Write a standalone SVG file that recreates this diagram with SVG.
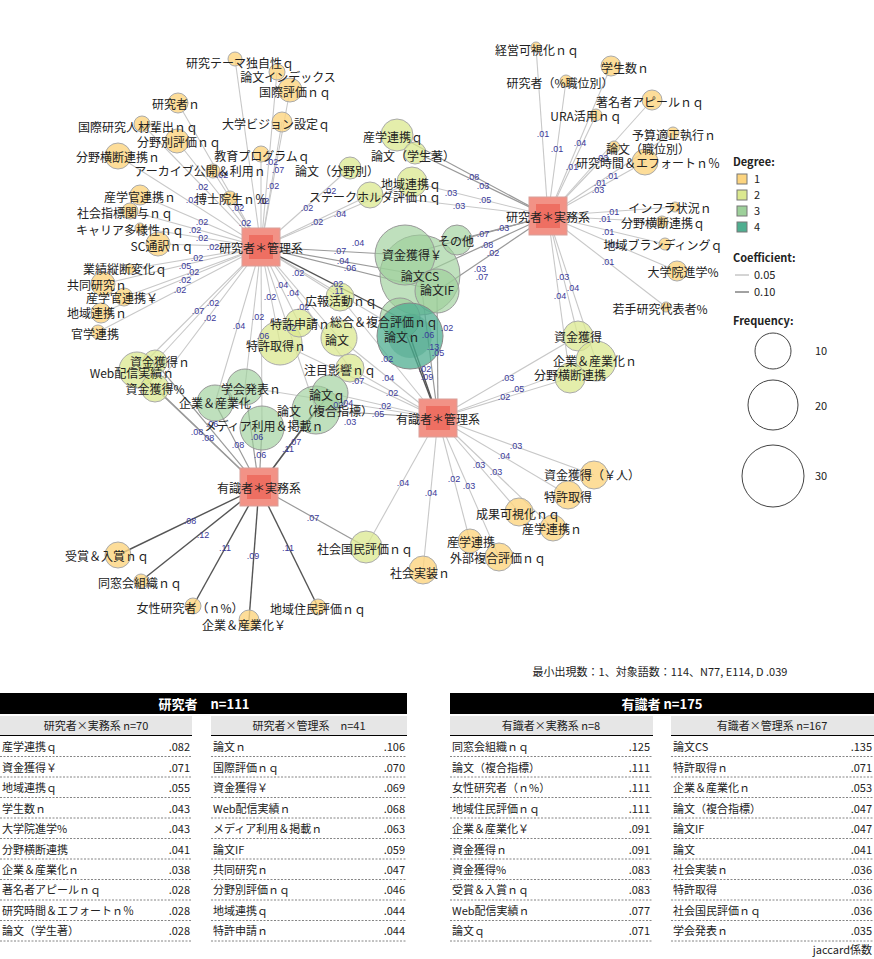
<svg xmlns="http://www.w3.org/2000/svg" width="874" height="959" viewBox="0 0 874 959">
<style>
text{font-family:"Noto Sans CJK JP","Liberation Sans",sans-serif;fill:#222}
.l{font-size:12px;text-anchor:middle;dominant-baseline:central}
.el{font-size:9px;fill:#3a3a9a;text-anchor:middle;font-family:"Liberation Sans",sans-serif}
.e1{stroke:#c8c8c8;stroke-width:1.1}
.e2{stroke:#9a9a9a;stroke-width:1.2}
.e3{stroke:#555;stroke-width:1.4}
.d1{fill:#fcd47f;fill-opacity:.8;stroke:#aaa}
.d2{fill:#dbe88f;fill-opacity:.75;stroke:#aaa}
.d3{fill:#9dd09a;fill-opacity:.65;stroke:#999}
.d4{fill:#4fae90;fill-opacity:.75;stroke:#888}
.ho{fill:#f29286;stroke:#d8a09a}
.hi{fill:#ee6f62}
.th{font-size:11px}
.dash{stroke:#666;stroke-dasharray:2 1.5;stroke-width:.8}
</style>
<rect width="874" height="959" fill="#fff"/>
<g id="connectors" fill="none">
<g class="e1">
<line x1="261" y1="247" x2="235" y2="59"/><line x1="261" y1="247" x2="277" y2="72"/><line x1="261" y1="247" x2="290" y2="90"/>
<line x1="261" y1="247" x2="178" y2="103"/><line x1="261" y1="247" x2="142" y2="124"/><line x1="261" y1="247" x2="177" y2="141"/>
<line x1="261" y1="247" x2="118" y2="156"/><line x1="261" y1="247" x2="282" y2="122"/><line x1="261" y1="247" x2="261" y2="154"/>
<line x1="261" y1="247" x2="213" y2="171"/><line x1="261" y1="247" x2="230" y2="198"/><line x1="261" y1="247" x2="140" y2="195"/>
<line x1="261" y1="247" x2="130" y2="211"/><line x1="261" y1="247" x2="140" y2="228"/><line x1="261" y1="247" x2="158" y2="244"/>
<line x1="261" y1="247" x2="130" y2="269"/><line x1="261" y1="247" x2="103" y2="284"/><line x1="261" y1="247" x2="124" y2="297"/>
<line x1="261" y1="247" x2="101" y2="313"/><line x1="261" y1="247" x2="98" y2="332"/>
<line x1="261" y1="247" x2="350" y2="168"/><line x1="261" y1="247" x2="370" y2="195"/><line x1="261" y1="247" x2="412" y2="182"/>
<line x1="261" y1="247" x2="340" y2="297"/><line x1="261" y1="247" x2="299" y2="323"/><line x1="261" y1="247" x2="280" y2="343"/>
<line x1="261" y1="247" x2="339" y2="338"/><line x1="261" y1="247" x2="350" y2="368"/><line x1="261" y1="247" x2="245" y2="387"/>
<line x1="261" y1="247" x2="215" y2="403"/><line x1="261" y1="247" x2="155" y2="362"/><line x1="261" y1="247" x2="137" y2="370"/>
<line x1="261" y1="247" x2="155" y2="388"/><line x1="261" y1="247" x2="262" y2="428"/><line x1="261" y1="247" x2="316" y2="410"/>
<line x1="548" y1="216" x2="536" y2="47"/><line x1="548" y1="216" x2="611" y2="66"/><line x1="548" y1="216" x2="566" y2="81"/>
<line x1="548" y1="216" x2="652" y2="100"/><line x1="548" y1="216" x2="596" y2="115"/><line x1="548" y1="216" x2="673" y2="133"/>
<line x1="548" y1="216" x2="614" y2="147"/><line x1="548" y1="216" x2="645" y2="162"/><line x1="548" y1="216" x2="675" y2="207"/>
<line x1="548" y1="216" x2="662" y2="222"/><line x1="548" y1="216" x2="665" y2="244"/><line x1="548" y1="216" x2="677" y2="271"/>
<line x1="548" y1="216" x2="666" y2="307"/><line x1="548" y1="216" x2="578" y2="336"/><line x1="548" y1="216" x2="596" y2="361"/>
<line x1="548" y1="216" x2="570" y2="378"/><line x1="548" y1="216" x2="370" y2="195"/><line x1="548" y1="216" x2="412" y2="182"/>
<line x1="438" y1="418" x2="578" y2="336"/><line x1="438" y1="418" x2="596" y2="361"/><line x1="438" y1="418" x2="570" y2="378"/>
<line x1="438" y1="418" x2="594" y2="475"/><line x1="438" y1="418" x2="568" y2="495"/><line x1="438" y1="418" x2="519" y2="512"/>
<line x1="438" y1="418" x2="553" y2="528"/><line x1="438" y1="418" x2="470" y2="541"/><line x1="438" y1="418" x2="499" y2="557"/>
<line x1="438" y1="418" x2="423" y2="570"/><line x1="438" y1="418" x2="366" y2="547"/><line x1="438" y1="418" x2="339" y2="338"/>
<line x1="438" y1="418" x2="350" y2="368"/><line x1="438" y1="418" x2="280" y2="343"/><line x1="438" y1="418" x2="330" y2="393"/>
<line x1="438" y1="418" x2="245" y2="387"/><line x1="438" y1="418" x2="340" y2="297"/><line x1="261" y1="247" x2="410" y2="336"/>
</g>
<g class="e2">
<line x1="261" y1="247" x2="405" y2="255"/><line x1="261" y1="247" x2="420" y2="275"/><line x1="261" y1="247" x2="437" y2="291"/>
<line x1="548" y1="216" x2="397" y2="135"/><line x1="548" y1="216" x2="415" y2="152"/><line x1="548" y1="216" x2="457" y2="240"/>
<line x1="548" y1="216" x2="405" y2="255"/><line x1="548" y1="216" x2="420" y2="275"/><line x1="548" y1="216" x2="437" y2="291"/>
<line x1="438" y1="418" x2="316" y2="410"/><line x1="438" y1="418" x2="437" y2="291"/><line x1="438" y1="418" x2="420" y2="275"/>
<line x1="259" y1="487" x2="155" y2="362"/><line x1="259" y1="487" x2="137" y2="370"/><line x1="259" y1="487" x2="155" y2="388"/>
<line x1="259" y1="487" x2="215" y2="403"/><line x1="259" y1="487" x2="245" y2="387"/><line x1="259" y1="487" x2="262" y2="428"/>
<line x1="259" y1="487" x2="366" y2="547"/><line x1="259" y1="487" x2="330" y2="393"/>
</g>
<g class="e3">
<line x1="438" y1="418" x2="410" y2="336"/><line x1="438" y1="418" x2="400" y2="318"/><line x1="259" y1="487" x2="316" y2="410"/>
<line x1="259" y1="487" x2="118" y2="555"/><line x1="259" y1="487" x2="141" y2="581"/><line x1="259" y1="487" x2="193" y2="606"/>
<line x1="259" y1="487" x2="249" y2="620"/><line x1="259" y1="487" x2="318" y2="607"/><line x1="261" y1="247" x2="400" y2="318"/>
</g>
</g>
<g id="nodes">
<g id="n1"><circle class="d1" cx="235" cy="59" r="7"/></g>
<g id="n2"><circle class="d1" cx="277" cy="72" r="8"/></g>
<g id="n3"><circle class="d1" cx="290" cy="90" r="12"/></g>
<g id="n4"><circle class="d1" cx="178" cy="103" r="10"/></g>
<g id="n5"><circle class="d1" cx="142" cy="124" r="8"/></g>
<g id="n6"><circle class="d1" cx="177" cy="141" r="12"/></g>
<g id="n7"><circle class="d1" cx="118" cy="156" r="13"/></g>
<g id="n8"><circle class="d1" cx="282" cy="122" r="10"/></g>
<g id="n9"><circle class="d1" cx="261" cy="154" r="8"/></g>
<g id="n10"><circle class="d1" cx="213" cy="171" r="7"/></g>
<g id="n11"><circle class="d1" cx="230" cy="198" r="7"/></g>
<g id="n12"><circle class="d1" cx="140" cy="195" r="10"/></g>
<g id="n13"><circle class="d1" cx="130" cy="211" r="8"/></g>
<g id="n14"><circle class="d1" cx="140" cy="228" r="5"/></g>
<g id="n15"><circle class="d1" cx="158" cy="244" r="12"/></g>
<g id="n16"><circle class="d1" cx="130" cy="269" r="5"/></g>
<g id="n17"><circle class="d1" cx="103" cy="284" r="12"/></g>
<g id="n18"><circle class="d1" cx="124" cy="297" r="9"/></g>
<g id="n19"><circle class="d1" cx="101" cy="313" r="10"/></g>
<g id="n20"><circle class="d1" cx="98" cy="332" r="7"/></g>
<g id="m5"><circle class="d2" cx="397" cy="135" r="16"/></g>
<g id="m4"><circle class="d2" cx="415" cy="153" r="11"/></g>
<g id="m1"><circle class="d2" cx="350" cy="168" r="11"/></g>
<g id="m3"><circle class="d2" cx="412" cy="182" r="15"/></g>
<g id="m2"><circle class="d2" cx="370" cy="195" r="13"/></g>
<g id="m8"><circle class="d3" cx="420" cy="275" r="40"/></g>
<g id="m7"><circle class="d3" cx="405" cy="255" r="30"/></g>
<g id="m6"><circle class="d3" cx="457" cy="240" r="15"/></g>
<g id="m9"><circle class="d3" cx="437" cy="291" r="22"/></g>
<g id="m10"><circle class="d3" cx="400" cy="318" r="20"/></g>
<g id="m11"><circle class="d4" cx="410" cy="336" r="33"/><circle cx="410" cy="336" r="22" fill="#3f9f80" fill-opacity=".35"/></g>
<g id="m12"><circle class="d2" cx="340" cy="297" r="14"/></g>
<g id="m14"><circle class="d2" cx="280" cy="343" r="22"/></g>
<g id="m13"><circle class="d2" cx="299" cy="323" r="14"/></g>
<g id="m15"><circle class="d2" cx="339" cy="338" r="18"/></g>
<g id="m16"><circle class="d2" cx="350" cy="368" r="14"/></g>
<g id="m22"><circle class="d2" cx="155" cy="362" r="12"/></g>
<g id="m23"><circle class="d2" cx="137" cy="370" r="18"/></g>
<g id="m24"><circle class="d2" cx="155" cy="388" r="14"/></g>
<g id="m20"><circle class="d3" cx="215" cy="403" r="18"/></g>
<g id="m19"><circle class="d3" cx="245" cy="387" r="18"/></g>
<g id="m21"><circle class="d3" cx="262" cy="428" r="22"/></g>
<g id="m18"><circle class="d3" cx="316" cy="410" r="24"/></g>
<g id="m17"><circle class="d3" cx="330" cy="393" r="18"/></g>
<g id="k1"><circle class="d1" cx="536" cy="47" r="5"/></g>
<g id="k2"><circle class="d1" cx="611" cy="66" r="10"/></g>
<g id="k3"><circle class="d1" cx="566" cy="81" r="6"/></g>
<g id="k4"><circle class="d1" cx="652" cy="100" r="10"/></g>
<g id="k5"><circle class="d1" cx="596" cy="115" r="6"/></g>
<g id="k6"><circle class="d1" cx="673" cy="133" r="6"/></g>
<g id="k7"><circle class="d1" cx="614" cy="147" r="6"/></g>
<g id="k8"><circle class="d1" cx="645" cy="162" r="13"/></g>
<g id="k9"><circle class="d1" cx="675" cy="207" r="5"/></g>
<g id="k10"><circle class="d1" cx="662" cy="222" r="6"/></g>
<g id="k11"><circle class="d1" cx="665" cy="244" r="6"/></g>
<g id="k12"><circle class="d1" cx="677" cy="271" r="10"/></g>
<g id="k13"><circle class="d1" cx="666" cy="307" r="5"/></g>
<g id="p1"><circle class="d2" cx="578" cy="336" r="15"/></g>
<g id="p2"><circle class="d2" cx="596" cy="361" r="20"/></g>
<g id="p3"><circle class="d2" cx="570" cy="378" r="15"/></g>
<g id="p4"><circle class="d1" cx="594" cy="475" r="14"/></g>
<g id="p5"><circle class="d1" cx="568" cy="495" r="14"/></g>
<g id="p6"><circle class="d1" cx="519" cy="512" r="14"/></g>
<g id="p7"><circle class="d1" cx="553" cy="528" r="13"/></g>
<g id="p8"><circle class="d1" cx="470" cy="541" r="12"/></g>
<g id="p9"><circle class="d1" cx="499" cy="557" r="14"/></g>
<g id="p10"><circle class="d1" cx="423" cy="570" r="14"/></g>
<g id="p11"><circle class="d2" cx="366" cy="547" r="16"/></g>
<g id="q1"><circle class="d1" cx="118" cy="555" r="13"/></g>
<g id="q2"><circle class="d1" cx="141" cy="581" r="7"/></g>
<g id="q3"><circle class="d1" cx="193" cy="606" r="8"/></g>
<g id="q4"><circle class="d1" cx="318" cy="607" r="8"/></g>
<g id="q5"><circle class="d1" cx="249" cy="620" r="10"/></g>
<g id="h1"><rect class="ho" x="242" y="228" width="38" height="38"/><rect class="hi" x="249" y="235" width="24" height="24"/></g>
<g id="h2"><rect class="ho" x="529" y="197" width="38" height="38"/><rect class="hi" x="536" y="204" width="24" height="24"/></g>
<g id="h3"><rect class="ho" x="419" y="399" width="38" height="38"/><rect class="hi" x="426" y="406" width="24" height="24"/></g>
<g id="h4"><rect class="ho" x="240" y="468" width="38" height="38"/><rect class="hi" x="247" y="475" width="24" height="24"/></g>
</g>
<g id="edge-labels">
<text class="el" x="202" y="190">.02</text><text class="el" x="192" y="203">.02</text><text class="el" x="222" y="178">.02</text>
<text class="el" x="272" y="165">.02</text><text class="el" x="278" y="173">.07</text><text class="el" x="273" y="189">.02</text>
<text class="el" x="238" y="211">.02</text><text class="el" x="245" y="226">.02</text><text class="el" x="263" y="204">.02</text>
<text class="el" x="307" y="211">.02</text><text class="el" x="317" y="225">.02</text><text class="el" x="340" y="217">.04</text><text class="el" x="330" y="194">.02</text>
<text class="el" x="202" y="225">.02</text><text class="el" x="195" y="233">.02</text><text class="el" x="202" y="241">.02</text><text class="el" x="213" y="250">.02</text>
<text class="el" x="197" y="261">.02</text><text class="el" x="185" y="269">.05</text><text class="el" x="193" y="275">.02</text><text class="el" x="185" y="283">.02</text>
<text class="el" x="180" y="293">.02</text><text class="el" x="198" y="314">.07</text><text class="el" x="213" y="306">.02</text><text class="el" x="210" y="321">.02</text>
<text class="el" x="239" y="329">.04</text><text class="el" x="258" y="320">.02</text><text class="el" x="270" y="300">.02</text><text class="el" x="282" y="288">.04</text>
<text class="el" x="298" y="276">.02</text><text class="el" x="358" y="246">.04</text><text class="el" x="340" y="254">.07</text><text class="el" x="343" y="264">.04</text>
<text class="el" x="350" y="271">.06</text><text class="el" x="293" y="296">.04</text><text class="el" x="303" y="310">.02</text><text class="el" x="338" y="294">.11</text>
<text class="el" x="337" y="287">.02</text><text class="el" x="263" y="339">.06</text><text class="el" x="290" y="331">.02</text>
<text class="el" x="543" y="137">.01</text><text class="el" x="557" y="152">.01</text><text class="el" x="580" y="146">.04</text><text class="el" x="572" y="170">.01</text>
<text class="el" x="602" y="161">.03</text><text class="el" x="612" y="179">.01</text><text class="el" x="600" y="186">.01</text><text class="el" x="598" y="193">.03</text>
<text class="el" x="473" y="180">.08</text><text class="el" x="483" y="189">.03</text><text class="el" x="451" y="196">.03</text><text class="el" x="485" y="203">.05</text>
<text class="el" x="459" y="209">.03</text><text class="el" x="613" y="215">.01</text><text class="el" x="605" y="222">.01</text><text class="el" x="608" y="235">.01</text>
<text class="el" x="613" y="248">.01</text><text class="el" x="608" y="265">.01</text><text class="el" x="503" y="231">.03</text><text class="el" x="483" y="237">.07</text>
<text class="el" x="487" y="248">.08</text><text class="el" x="493" y="256">.02</text><text class="el" x="480" y="272">.03</text><text class="el" x="482" y="280">.07</text>
<text class="el" x="563" y="280">.03</text><text class="el" x="573" y="291">.04</text><text class="el" x="560" y="299">.04</text>
<text class="el" x="387" y="362">.02</text><text class="el" x="388" y="381">.04</text><text class="el" x="358" y="384">.07</text><text class="el" x="392" y="396">.02</text>
<text class="el" x="385" y="409">.02</text><text class="el" x="378" y="417">.05</text><text class="el" x="350" y="425">.03</text><text class="el" x="425" y="372">.02</text>
<text class="el" x="427" y="380">.09</text><text class="el" x="433" y="350">.13</text><text class="el" x="438" y="356">.05</text><text class="el" x="447" y="331">.02</text>
<text class="el" x="428" y="338">.06</text><text class="el" x="347" y="406">.04</text><text class="el" x="337" y="408">.02</text>
<text class="el" x="508" y="381">.03</text><text class="el" x="518" y="392">.05</text><text class="el" x="504" y="400">.02</text><text class="el" x="516" y="449">.03</text>
<text class="el" x="504" y="459">.04</text><text class="el" x="479" y="468">.03</text><text class="el" x="496" y="475">.03</text><text class="el" x="454" y="482">.02</text>
<text class="el" x="469" y="489">.03</text><text class="el" x="403" y="486">.04</text><text class="el" x="431" y="496">.04</text>
<text class="el" x="197" y="435">.08</text><text class="el" x="208" y="441">.08</text><text class="el" x="238" y="448">.08</text><text class="el" x="260" y="458">.06</text>
<text class="el" x="257" y="440">.06</text><text class="el" x="212" y="427">.06</text><text class="el" x="295" y="445">.07</text><text class="el" x="288" y="452">.11</text>
<text class="el" x="190" y="524">.08</text><text class="el" x="203" y="538">.12</text><text class="el" x="225" y="551">.11</text><text class="el" x="253" y="559">.09</text>
<text class="el" x="288" y="551">.11</text><text class="el" x="313" y="521">.07</text>
</g>
<g id="node-labels" class="l">
<text class="l" x="240" y="62">研究テーマ独自性ｑ</text>
<text class="l" x="288" y="76">論文インデックス</text>
<text class="l" x="295" y="91">国際評価ｎｑ</text>
<text class="l" x="176" y="103">研究者ｎ</text>
<text class="l" x="138" y="126">国際研究人材輩出ｎｑ</text>
<text class="l" x="179" y="141">分野別評価ｎｑ</text>
<text class="l" x="118" y="156">分野横断連携ｎ</text>
<text class="l" x="276" y="123">大学ビジョン設定ｑ</text>
<text class="l" x="262" y="155">教育プログラムｑ</text>
<text class="l" x="200" y="170">アーカイブ公開＆利用ｎ</text>
<text class="l" x="231" y="198">博士院生ｎ％</text>
<text class="l" x="140" y="196">産学官連携ｎ</text>
<text class="l" x="125" y="212">社会指標関与ｎｑ</text>
<text class="l" x="130" y="229">キャリア多様性ｎｑ</text>
<text class="l" x="162" y="245">SC通訳ｎｑ</text>
<text class="l" x="125" y="268">業績縦断変化ｑ</text>
<text class="l" x="97" y="284">共同研究ｎ</text>
<text class="l" x="122" y="297">産学官連携￥</text>
<text class="l" x="97" y="312">地域連携ｎ</text>
<text class="l" x="95" y="333">官学連携</text>
<text class="l" x="393" y="136">産学連携ｑ</text>
<text class="l" x="413" y="155">論文（学生著）</text>
<text class="l" x="337" y="170">論文（分野別）</text>
<text class="l" x="411" y="183">地域連携ｑ</text>
<text class="l" x="375" y="196">ステークホルダ評価ｎｑ</text>
<text class="l" x="420" y="275">論文CS</text>
<text class="l" x="412" y="254">資金獲得￥</text>
<text class="l" x="456" y="240">その他</text>
<text class="l" x="437" y="289">論文IF</text>
<text class="l" x="384" y="321">総合＆複合評価ｎｑ</text>
<text class="l" x="402" y="336">論文ｎ</text>
<text class="l" x="341" y="300">広報活動ｎｑ</text>
<text class="l" x="276" y="345">特許取得ｎ</text>
<text class="l" x="300" y="323">特許申請ｎ</text>
<text class="l" x="337" y="339">論文</text>
<text class="l" x="340" y="369">注目影響ｎｑ</text>
<text class="l" x="160" y="361">資金獲得ｎ</text>
<text class="l" x="132" y="372">Web配信実績ｎ</text>
<text class="l" x="155" y="388">資金獲得%</text>
<text class="l" x="215" y="402">企業＆産業化</text>
<text class="l" x="251" y="388">学会発表ｎ</text>
<text class="l" x="264" y="425">メディア利用＆掲載ｎ</text>
<text class="l" x="327" y="394">論文ｑ</text>
<text class="l" x="325" y="410">論文（複合指標）</text>
<text class="l" x="537" y="49">経営可視化ｎｑ</text>
<text class="l" x="625" y="67">学生数ｎ</text>
<text class="l" x="560" y="82">研究者（%職位別）</text>
<text class="l" x="650" y="101">著名者アピールｎｑ</text>
<text class="l" x="586" y="115">URA活用ｎｑ</text>
<text class="l" x="674" y="134">予算適正執行ｎ</text>
<text class="l" x="648" y="148">論文（職位別）</text>
<text class="l" x="648" y="162">研究時間＆エフォートｎ％</text>
<text class="l" x="670" y="207">インフラ状況ｎ</text>
<text class="l" x="663" y="222">分野横断連携ｑ</text>
<text class="l" x="663" y="244">地域ブランディングｑ</text>
<text class="l" x="683" y="271">大学院進学%</text>
<text class="l" x="660" y="308">若手研究代表者%</text>
<text class="l" x="578" y="336">資金獲得</text>
<text class="l" x="595" y="360">企業＆産業化ｎ</text>
<text class="l" x="570" y="374">分野横断連携</text>
<text class="l" x="592" y="474">資金獲得（￥人）</text>
<text class="l" x="568" y="496">特許取得</text>
<text class="l" x="518" y="513">成果可視化ｎｑ</text>
<text class="l" x="552" y="528">産学連携ｎ</text>
<text class="l" x="471" y="541">産学連携</text>
<text class="l" x="498" y="557">外部複合評価ｎｑ</text>
<text class="l" x="420" y="572">社会実装ｎ</text>
<text class="l" x="365" y="548">社会国民評価ｎｑ</text>
<text class="l" x="107" y="555">受賞＆入賞ｎｑ</text>
<text class="l" x="140" y="582">同窓会組織ｎｑ</text>
<text class="l" x="190" y="607">女性研究者（ｎ%）</text>
<text class="l" x="318" y="608">地域住民評価ｎｑ</text>
<text class="l" x="244" y="624">企業＆産業化￥</text>
<text class="l" x="261" y="247">研究者＊管理系</text>
<text class="l" x="548" y="216">研究者＊実務系</text>
<text class="l" x="438" y="418">有識者＊管理系</text>
<text class="l" x="259" y="487">有識者＊実務系</text>
</g>
<g id="legend" font-family="'DejaVu Sans',sans-serif">
<text x="733" y="166" font-size="11" font-weight="bold">Degree:</text>
<rect x="737" y="174" width="10" height="10" fill="#fcd47f" stroke="#777"/><text x="754" y="183" font-size="11">1</text>
<rect x="737" y="190" width="10" height="10" fill="#dbe88f" stroke="#777"/><text x="754" y="199" font-size="11">2</text>
<rect x="737" y="206" width="10" height="10" fill="#9dd09a" stroke="#777"/><text x="754" y="215" font-size="11">3</text>
<rect x="737" y="222" width="10" height="10" fill="#4fae90" stroke="#777"/><text x="754" y="231" font-size="11">4</text>
<text x="733" y="262" font-size="11" font-weight="bold">Coefficient:</text>
<line x1="735" y1="275" x2="749" y2="275" stroke="#aaa"/><text x="754" y="279" font-size="11">0.05</text>
<line x1="735" y1="292" x2="749" y2="292" stroke="#444"/><text x="754" y="296" font-size="11">0.10</text>
<text x="733" y="325" font-size="11" font-weight="bold">Frequency:</text>
<circle cx="773" cy="351" r="18" fill="none" stroke="#444"/><text x="815" y="355" font-size="11">10</text>
<circle cx="773" cy="405" r="25" fill="none" stroke="#444"/><text x="815" y="410" font-size="11">20</text>
<circle cx="773" cy="476" r="31" fill="none" stroke="#444"/><text x="815" y="480" font-size="11">30</text>
</g>
<text x="660" y="676" font-size="11" text-anchor="middle">最小出現数：1、対象語数：114、N77, E114, D .039</text>
<g id="table-left">
<rect x="0" y="693" width="407" height="21" fill="#000"/>
<text x="204" y="709" font-size="13" font-weight="bold" text-anchor="middle" style="fill:#fff">研究者　n=111</text>
<rect x="0" y="716" width="192" height="19" fill="#e6e6e6"/><line x1="0" y1="735.5" x2="192" y2="735.5" stroke="#000"/>
<rect x="211" y="716" width="196" height="19" fill="#e6e6e6"/><line x1="211" y1="735.5" x2="407" y2="735.5" stroke="#000"/>
<text x="96" y="730" class="th" text-anchor="middle">研究者×実務系 n=70</text>
<text x="309" y="730" class="th" text-anchor="middle">研究者×管理系　n=41</text>
<g class="th">
<text x="2" y="751">産学連携ｑ</text><text x="190" y="751" text-anchor="end">.082</text>
<text x="2" y="772">資金獲得￥</text><text x="190" y="772" text-anchor="end">.071</text>
<text x="2" y="792">地域連携ｑ</text><text x="190" y="792" text-anchor="end">.055</text>
<text x="2" y="813">学生数ｎ</text><text x="190" y="813" text-anchor="end">.043</text>
<text x="2" y="833">大学院進学%</text><text x="190" y="833" text-anchor="end">.043</text>
<text x="2" y="854">分野横断連携</text><text x="190" y="854" text-anchor="end">.041</text>
<text x="2" y="874">企業＆産業化ｎ</text><text x="190" y="874" text-anchor="end">.038</text>
<text x="2" y="894">著名者アピールｎｑ</text><text x="190" y="894" text-anchor="end">.028</text>
<text x="2" y="915">研究時間＆エフォートｎ％</text><text x="190" y="915" text-anchor="end">.028</text>
<text x="2" y="935">論文（学生著）</text><text x="190" y="935" text-anchor="end">.028</text>
<text x="213" y="751">論文ｎ</text><text x="405" y="751" text-anchor="end">.106</text>
<text x="213" y="772">国際評価ｎｑ</text><text x="405" y="772" text-anchor="end">.070</text>
<text x="213" y="792">資金獲得￥</text><text x="405" y="792" text-anchor="end">.069</text>
<text x="213" y="813">Web配信実績ｎ</text><text x="405" y="813" text-anchor="end">.068</text>
<text x="213" y="833">メディア利用＆掲載ｎ</text><text x="405" y="833" text-anchor="end">.063</text>
<text x="213" y="854">論文IF</text><text x="405" y="854" text-anchor="end">.059</text>
<text x="213" y="874">共同研究ｎ</text><text x="405" y="874" text-anchor="end">.047</text>
<text x="213" y="894">分野別評価ｎｑ</text><text x="405" y="894" text-anchor="end">.046</text>
<text x="213" y="915">地域連携ｑ</text><text x="405" y="915" text-anchor="end">.044</text>
<text x="213" y="935">特許申請ｎ</text><text x="405" y="935" text-anchor="end">.044</text>
</g>
<g class="dash">
<line x1="0" y1="756.5" x2="192" y2="756.5"/><line x1="0" y1="777" x2="192" y2="777"/><line x1="0" y1="797.5" x2="192" y2="797.5"/><line x1="0" y1="818" x2="192" y2="818"/><line x1="0" y1="838.5" x2="192" y2="838.5"/><line x1="0" y1="859" x2="192" y2="859"/><line x1="0" y1="879.5" x2="192" y2="879.5"/><line x1="0" y1="900" x2="192" y2="900"/><line x1="0" y1="920.5" x2="192" y2="920.5"/><line x1="0" y1="941" x2="192" y2="941"/>
<line x1="211" y1="756.5" x2="407" y2="756.5"/><line x1="211" y1="777" x2="407" y2="777"/><line x1="211" y1="797.5" x2="407" y2="797.5"/><line x1="211" y1="818" x2="407" y2="818"/><line x1="211" y1="838.5" x2="407" y2="838.5"/><line x1="211" y1="859" x2="407" y2="859"/><line x1="211" y1="879.5" x2="407" y2="879.5"/><line x1="211" y1="900" x2="407" y2="900"/><line x1="211" y1="920.5" x2="407" y2="920.5"/><line x1="211" y1="941" x2="407" y2="941"/>
</g>
</g>
<g id="table-right">
<rect x="450" y="693" width="424" height="21" fill="#000"/>
<text x="662" y="709" font-size="13" font-weight="bold" text-anchor="middle" style="fill:#fff">有識者 n=175</text>
<rect x="450" y="716" width="203" height="19" fill="#e6e6e6"/><line x1="450" y1="735.5" x2="653" y2="735.5" stroke="#000"/>
<rect x="671" y="716" width="203" height="19" fill="#e6e6e6"/><line x1="671" y1="735.5" x2="874" y2="735.5" stroke="#000"/>
<text x="551" y="730" class="th" text-anchor="middle">有識者×実務系 n=8</text>
<text x="772" y="730" class="th" text-anchor="middle">有識者×管理系 n=167</text>
<g class="th">
<text x="452" y="751">同窓会組織ｎｑ</text><text x="650" y="751" text-anchor="end">.125</text>
<text x="452" y="772">論文（複合指標）</text><text x="650" y="772" text-anchor="end">.111</text>
<text x="452" y="792">女性研究者（ｎ%）</text><text x="650" y="792" text-anchor="end">.111</text>
<text x="452" y="813">地域住民評価ｎｑ</text><text x="650" y="813" text-anchor="end">.111</text>
<text x="452" y="833">企業＆産業化￥</text><text x="650" y="833" text-anchor="end">.091</text>
<text x="452" y="854">資金獲得ｎ</text><text x="650" y="854" text-anchor="end">.091</text>
<text x="452" y="874">資金獲得%</text><text x="650" y="874" text-anchor="end">.083</text>
<text x="452" y="894">受賞＆入賞ｎｑ</text><text x="650" y="894" text-anchor="end">.083</text>
<text x="452" y="915">Web配信実績ｎ</text><text x="650" y="915" text-anchor="end">.077</text>
<text x="452" y="935">論文ｑ</text><text x="650" y="935" text-anchor="end">.071</text>
<text x="673" y="751">論文CS</text><text x="872" y="751" text-anchor="end">.135</text>
<text x="673" y="772">特許取得ｎ</text><text x="872" y="772" text-anchor="end">.071</text>
<text x="673" y="792">企業＆産業化ｎ</text><text x="872" y="792" text-anchor="end">.053</text>
<text x="673" y="813">論文（複合指標）</text><text x="872" y="813" text-anchor="end">.047</text>
<text x="673" y="833">論文IF</text><text x="872" y="833" text-anchor="end">.047</text>
<text x="673" y="854">論文</text><text x="872" y="854" text-anchor="end">.041</text>
<text x="673" y="874">社会実装ｎ</text><text x="872" y="874" text-anchor="end">.036</text>
<text x="673" y="894">特許取得</text><text x="872" y="894" text-anchor="end">.036</text>
<text x="673" y="915">社会国民評価ｎｑ</text><text x="872" y="915" text-anchor="end">.036</text>
<text x="673" y="935">学会発表ｎ</text><text x="872" y="935" text-anchor="end">.035</text>
<text x="872" y="954" text-anchor="end">jaccard係数</text>
</g>
<g class="dash">
<line x1="450" y1="756.5" x2="653" y2="756.5"/><line x1="450" y1="777" x2="653" y2="777"/><line x1="450" y1="797.5" x2="653" y2="797.5"/><line x1="450" y1="818" x2="653" y2="818"/><line x1="450" y1="838.5" x2="653" y2="838.5"/><line x1="450" y1="859" x2="653" y2="859"/><line x1="450" y1="879.5" x2="653" y2="879.5"/><line x1="450" y1="900" x2="653" y2="900"/><line x1="450" y1="920.5" x2="653" y2="920.5"/><line x1="450" y1="941" x2="653" y2="941"/>
<line x1="671" y1="756.5" x2="874" y2="756.5"/><line x1="671" y1="777" x2="874" y2="777"/><line x1="671" y1="797.5" x2="874" y2="797.5"/><line x1="671" y1="818" x2="874" y2="818"/><line x1="671" y1="838.5" x2="874" y2="838.5"/><line x1="671" y1="859" x2="874" y2="859"/><line x1="671" y1="879.5" x2="874" y2="879.5"/><line x1="671" y1="900" x2="874" y2="900"/><line x1="671" y1="920.5" x2="874" y2="920.5"/><line x1="671" y1="941" x2="874" y2="941"/>
</g>
</g>
</svg>
